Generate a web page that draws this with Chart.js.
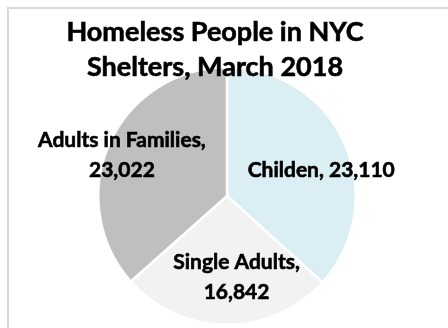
<!DOCTYPE html>
<html>
<head>
<meta charset="utf-8">
<script src="https://cdn.jsdelivr.net/npm/chart.js@4.4.1/dist/chart.umd.min.js"></script>
<style>
  html, body { margin: 0; padding: 0; background: #fff; overflow: hidden; }
  #wrap { position: relative; width: 448px; height: 328px; }
  #frame {
    position: absolute; left: 7px; top: 7px; width: 460px; height: 340px;
    border-left: 2px solid #d9d9d9; border-top: 2px solid #d9d9d9;
  }
  #pie { position: absolute; left: 0; top: 0; }
</style>
</head>
<body>
<div id="wrap">
  <div id="frame"></div>
  <canvas id="pie" width="448" height="328"></canvas>
</div>
<script>
const titleLines = ["Homeless People in NYC", "Shelters, March 2018"];
const categories = ["Childen", "Single Adults", "Adults in Families"];
const people = [23110, 16842, 23022];
const sliceColors = ["#dbeef4", "#f2f2f2", "#bfbfbf"];

// label placement: point at 3/4 radius on the slice's middle angle, then nudged
const labelNudge = [[6, 13], [10, -15], [-17, -1]];
const labelFont = "bold 21px Lato";
const titleFont = "bold 27px Lato";

const fmt = (n) => n.toLocaleString("en-US");

// bold text with a hairline stroke so it reads a little heavier
function heavyText(ctx, text, x, y) {
  ctx.fillText(text, x, y);
  ctx.strokeText(text, x, y);
}

const sliceLabels = {
  id: "sliceLabels",
  afterDatasetsDraw(chart) {
    const ctx = chart.ctx;
    const meta = chart.getDatasetMeta(0);
    ctx.save();
    ctx.fillStyle = "#000";
    ctx.strokeStyle = "#000";
    ctx.lineWidth = 0.6;
    ctx.font = labelFont;
    ctx.textAlign = "center";
    ctx.textBaseline = "middle";
    meta.data.forEach((arc, i) => {
      const p = arc.getProps(["x", "y", "startAngle", "endAngle", "outerRadius"], true);
      const mid = (p.startAngle + p.endAngle) / 2;
      const r = p.outerRadius * 0.75;
      const x = p.x + Math.cos(mid) * r + labelNudge[i][0];
      const y = p.y + Math.sin(mid) * r + labelNudge[i][1];
      // wrap onto two lines when it doesn't fit the slice
      if (i === 0) {
        heavyText(ctx, categories[i] + ", " + fmt(people[i]), x, y);
      } else {
        heavyText(ctx, categories[i] + ",", x, y - 15);
        heavyText(ctx, fmt(people[i]), x, y + 15);
      }
    });

    // title sits on top of the pie
    ctx.font = titleFont;
    heavyText(ctx, titleLines[0], 215, 32);
    heavyText(ctx, titleLines[1], 215, 67);
    ctx.restore();
  }
};

new Chart(document.getElementById("pie"), {
  type: "pie",
  data: {
    labels: categories,
    datasets: [{
      data: people,
      backgroundColor: sliceColors,
      borderColor: "#ffffff",
      borderWidth: 2.5,
    }],
  },
  options: {
    responsive: false,
    animation: false,
    layout: { padding: { top: 66, bottom: 2, left: 97, right: 91 } },
    plugins: {
      legend: { display: false },
      tooltip: { enabled: false },
      title: { display: false },
    },
  },
  plugins: [sliceLabels],
});
</script>
</body>
</html>
